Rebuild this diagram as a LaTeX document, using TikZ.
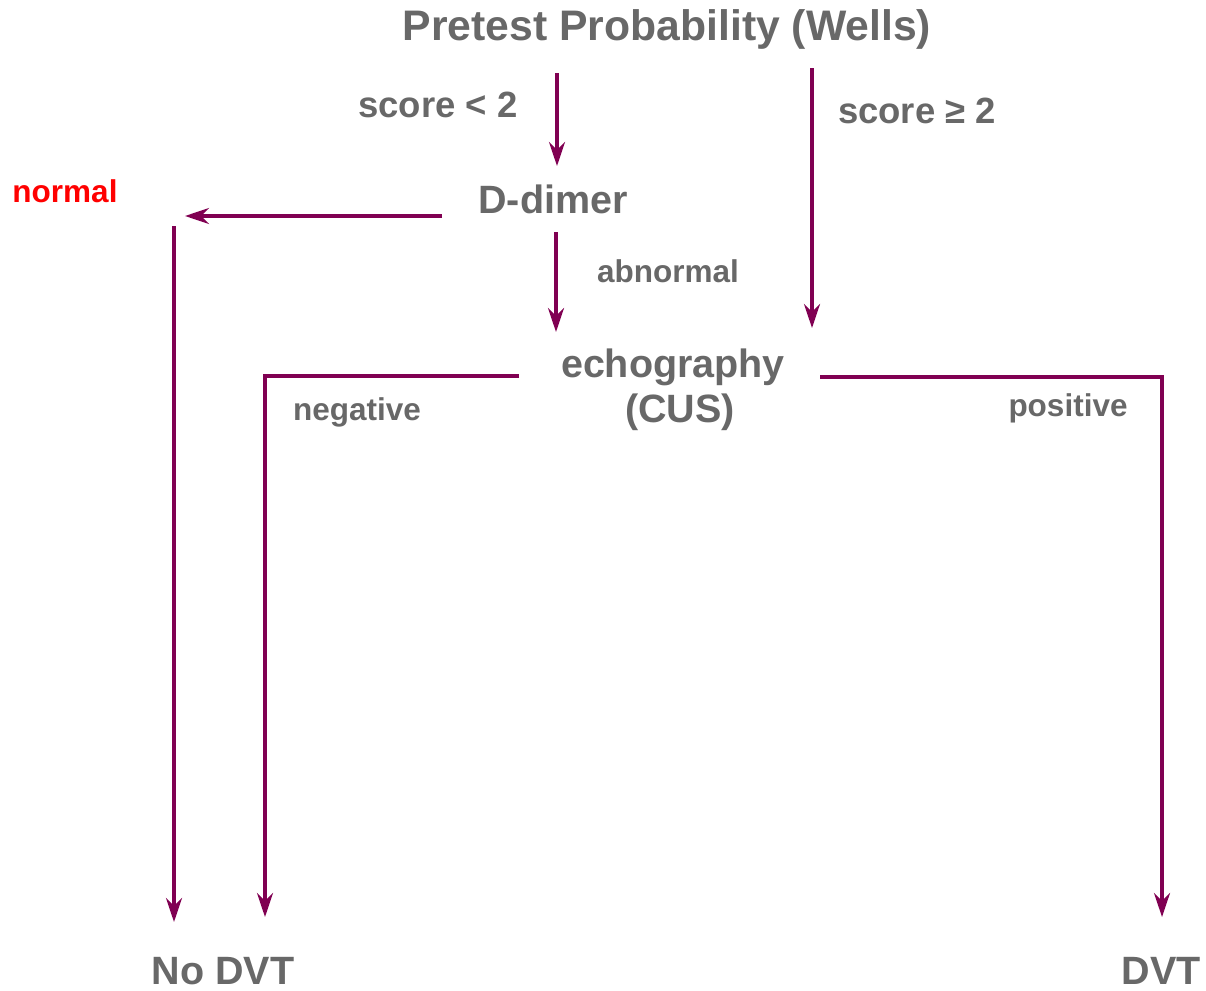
\documentclass[tikz,border=0pt]{standalone}
\usepackage{fontspec}
\setmainfont{Liberation Sans}
\usetikzlibrary{arrows.meta}
\definecolor{arrowc}{RGB}{128,0,82}
\definecolor{txtc}{RGB}{104,104,104}
\tikzset{
  conn/.style={draw=arrowc, line width=3.6pt, -{Stealth[length=24pt,width=16pt,inset=8pt]}},
  txt/.style={inner sep=0pt, anchor=base, text=txtc, font=\bfseries},
  big/.style={txt, font=\fontsize{42.7}{48}\selectfont\bfseries},
  mid/.style={txt, font=\fontsize{39.5}{46}\selectfont\bfseries},
  score/.style={txt, font=\fontsize{36.5}{42}\selectfont\bfseries},
  small/.style={txt, font=\fontsize{31.5}{36}\selectfont\bfseries}
}
\begin{document}
\begin{tikzpicture}[x=1pt,y=-1pt]
\useasboundingbox (0,0) rectangle (1206,990);
% texts
\node[big] (title) at (667,41) {Pretest Probability (Wells)};
\node[score] (slow) at (438,117) {score < 2};
\node[score] (shigh) at (917,123) {score ≥ 2};
\node[small, text=red] (normal) at (65,202) {normal};
\node[mid] (ddimer) at (553,213) {D-dimer};
\node[small] (abn) at (668,282) {abnormal};
\node[mid] (echo) at (673,377) {echography};
\node[mid] (cus) at (680,422) {(CUS)};
\node[small] (neg) at (357,420) {negative};
\node[small] (pos) at (1068,416) {positive};
\node[mid] (nodvt) at (223,984) {No DVT};
\node[mid] (dvt) at (1161,984) {DVT};
% coordinates for connector ends
\coordinate (a1) at (557,73);   \coordinate (a2) at (557,166);
\coordinate (b1) at (812,68);   \coordinate (b2) at (812,328);
\coordinate (c1) at (442,216);  \coordinate (c2) at (185,216);
\coordinate (n1) at (174,226);  \coordinate (n2) at (174,922);
\coordinate (d1) at (556,232);  \coordinate (d2) at (556,332);
\coordinate (e1) at (519,376);  \coordinate (e2) at (265,376);  \coordinate (e3) at (265,917);
\coordinate (f1) at (820,377);  \coordinate (f2) at (1162,377); \coordinate (f3) at (1162,917);
% connectors
\draw[conn] (a1) -- (a2);
\draw[conn] (b1) -- (b2);
\draw[conn] (c1) -- (c2);
\draw[conn] (n1) -- (n2);
\draw[conn] (d1) -- (d2);
\draw[conn] (e1) -- (e2) -- (e3);
\draw[conn] (f1) -- (f2) -- (f3);
\end{tikzpicture}
\end{document}
